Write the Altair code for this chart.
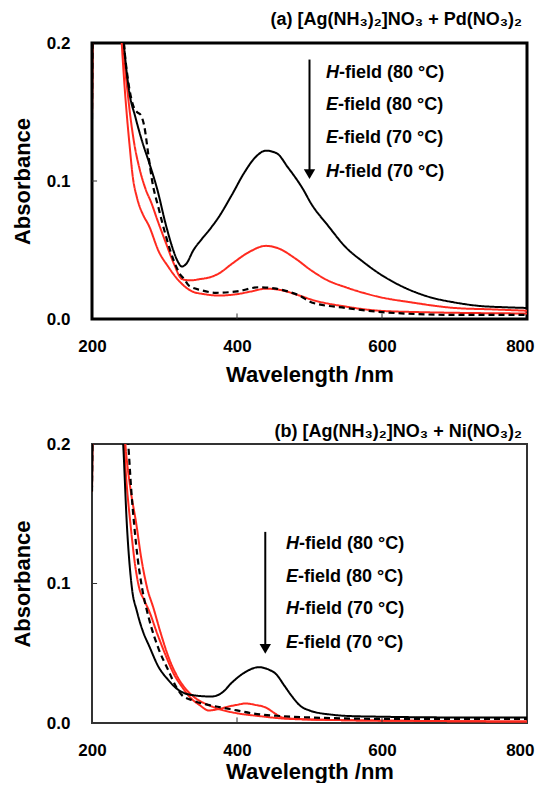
import altair as alt
import pandas as pd

# ---------------- axes ----------------
X_TICKS = [200, 400, 600, 800]
Y_TICKS = [0.0, 0.1, 0.2]
INNER_X_TICKS = [400, 600]
INNER_Y_TICKS = [0.1]

RED = "#ff2a1f"
BLACK = "#000000"
FONT = "Liberation Sans"

# ---------------- panel (a): [Ag(NH3)2]NO3 + Pd(NO3)2 ----------------
a_h80_wl = [200, 202, 238, 244, 251, 260, 269, 279, 290, 302, 312, 318, 324, 330, 340, 350, 361, 375, 393,
            410, 425, 440, 455, 470, 490, 503, 525, 550, 575, 596, 630, 665, 700, 734, 770, 800]
a_h80_ab = [0.145, 0.25, 0.25, 0.200, 0.166, 0.146, 0.129, 0.113, 0.094, 0.068, 0.050, 0.042, 0.038, 0.040,
            0.050, 0.057, 0.064, 0.074, 0.090, 0.106, 0.117, 0.122, 0.120, 0.110, 0.095, 0.083, 0.068, 0.052,
            0.041, 0.033, 0.023, 0.016, 0.012, 0.0095, 0.0085, 0.008]

a_e80_wl = [200, 202, 238, 243, 250, 258, 266, 274, 282, 290, 302, 313, 324, 335, 350, 361, 375, 393, 415,
            440, 458, 480, 503, 525, 550, 596, 641, 700, 750, 800]
a_e80_ab = [0.145, 0.25, 0.25, 0.200, 0.160, 0.128, 0.108, 0.094, 0.084, 0.072, 0.055, 0.040, 0.029, 0.028,
            0.029, 0.030, 0.033, 0.040, 0.048, 0.053, 0.051, 0.044, 0.035, 0.028, 0.023, 0.016, 0.012, 0.008,
            0.007, 0.006]

a_h70_wl = [200, 202, 236, 241, 245, 248, 252, 256, 262, 266, 270, 279, 292, 305, 316, 327, 338, 355, 375,
            400, 420, 440, 460, 486, 503, 550, 596, 650, 700, 800]
a_h70_ab = [0.145, 0.25, 0.25, 0.200, 0.168, 0.148, 0.125, 0.104, 0.088, 0.081, 0.076, 0.067, 0.049, 0.038,
            0.030, 0.024, 0.020, 0.018, 0.017, 0.018, 0.020, 0.022, 0.021, 0.017, 0.014, 0.009, 0.006, 0.005,
            0.0045, 0.004]

a_e70_wl = [200, 202, 238, 244, 250, 256, 262, 267, 272, 278, 283, 292, 302, 313, 322, 327, 334, 350, 371,
            400, 430, 454, 470, 486, 503, 550, 600, 700, 800]
a_e70_ab = [0.145, 0.25, 0.25, 0.200, 0.172, 0.156, 0.150, 0.148, 0.140, 0.118, 0.100, 0.080, 0.060, 0.042,
            0.032, 0.029, 0.024, 0.021, 0.019, 0.020, 0.023, 0.022, 0.020, 0.017, 0.012, 0.008, 0.005, 0.003,
            0.003]

a_title = "(a) [Ag(NH₃)₂]NO₃ + Pd(NO₃)₂"
a_leg_letter = ["H", "E", "E", "H"]
a_leg_rest = ["-field (80 °C)", "-field (80 °C)", "-field (70 °C)", "-field (70 °C)"]
a_leg_wl = [540.6, 539.3, 539.3, 540.6]
a_leg_ab = [0.178, 0.155, 0.131, 0.1065]
a_arrow_wl = [500]
a_arrow_top = [0.188]
a_arrow_tip = [0.0995]

# ---------------- panel (b): [Ag(NH3)2]NO3 + Ni(NO3)2 ----------------
b_h80_wl = [200, 202, 236, 243, 248, 255, 262, 270, 279, 292, 305, 316, 338, 365, 380, 393, 410, 430, 445,
            454, 465, 476, 488, 500, 530, 555, 600, 700, 800]
b_h80_ab = [0.166, 0.25, 0.25, 0.200, 0.143, 0.097, 0.080, 0.066, 0.055, 0.040, 0.031, 0.025, 0.020, 0.019,
            0.022, 0.029, 0.036, 0.040, 0.038, 0.035, 0.027, 0.019, 0.012, 0.009, 0.006, 0.005, 0.0045, 0.004,
            0.004]

b_e80_wl = [200, 202, 238, 244, 248, 253, 259, 265, 272, 279, 290, 302, 313, 324, 336, 348, 361, 375, 390,
            400, 412, 425, 440, 452, 462, 480, 550, 650, 800]
b_e80_ab = [0.166, 0.25, 0.25, 0.200, 0.170, 0.143, 0.115, 0.097, 0.088, 0.080, 0.064, 0.048, 0.035, 0.026,
            0.018, 0.013, 0.009, 0.010, 0.012, 0.013, 0.014, 0.013, 0.011, 0.007, 0.004, 0.003, 0.002, 0.0015,
            0.001]

b_h70_wl = [200, 202, 240, 246, 253, 261, 268, 276, 285, 295, 305, 318, 330, 345, 360, 375, 400, 430, 470,
            550, 650, 800]
b_h70_ab = [0.166, 0.25, 0.25, 0.200, 0.168, 0.143, 0.118, 0.097, 0.082, 0.064, 0.048, 0.033, 0.024, 0.017,
            0.013, 0.010, 0.007, 0.005, 0.003, 0.002, 0.0015, 0.001]

b_e70_wl = [200, 202, 240, 250, 254, 258, 263, 269, 279, 292, 305, 316, 324, 340, 360, 380, 400, 420, 460,
            500, 600, 800]
b_e70_ab = [0.166, 0.25, 0.25, 0.200, 0.168, 0.143, 0.118, 0.097, 0.074, 0.053, 0.038, 0.026, 0.020, 0.016,
            0.013, 0.011, 0.009, 0.007, 0.005, 0.004, 0.003, 0.003]

b_title = "(b) [Ag(NH₃)₂]NO₃ + Ni(NO₃)₂"
b_leg_letter = ["H", "E", "H", "E"]
b_leg_rest = ["-field (80 °C)", "-field (80 °C)", "-field (70 °C)", "-field (70 °C)"]
b_leg_wl = [485.4, 484.2, 485.4, 484.2]
b_leg_ab = [0.128, 0.105, 0.0818, 0.0575]
b_arrow_wl = [439]
b_arrow_top = [0.137]
b_arrow_tip = [0.0476]


def x_axis(title_pad):
    return alt.Axis(title="Wavelength /nm", values=X_TICKS, ticks=False, tickSize=0, domain=False, grid=False,
                    labelFlush=False, labelOverlap=False,
                    labelAlign={"condition": {"test": "datum.value >= 800", "value": "right"},
                                "value": "center"},
                    labelOffset={"condition": {"test": "datum.value >= 800", "value": 7}, "value": 0},
                    labelFont=FONT, labelFontSize=17, labelFontWeight="bold", labelColor="black",
                    labelPadding=19, titleFont=FONT, titleFontSize=22, titleFontWeight="bold",
                    titleColor="black", titlePadding=title_pad)


Y_AXIS = alt.Axis(title="Absorbance", values=Y_TICKS, format=".1f", ticks=False, tickSize=0, domain=False,
                  grid=False, labelFlush=False, labelOverlap=False,
                  labelFont=FONT, labelFontSize=17, labelFontWeight="bold", labelColor="black",
                  labelPadding=22, titleFont=FONT, titleFontSize=22, titleFontWeight="bold",
                  titleColor="black", titlePadding=12)
X_SCALE = alt.Scale(domain=[200, 800], nice=False, zero=False)
Y_SCALE = alt.Scale(domain=[0, 0.2], nice=False)


def panel(series, title, title_offset, leg_letter, leg_rest, leg_wl, leg_ab,
          arr_wl, arr_top, arr_tip, height, frame_color, frame_width, tick_len, xtitle_pad):
    xa = x_axis(xtitle_pad)

    def xenc():
        return alt.X("wl:Q", scale=X_SCALE, axis=xa)

    def yenc():
        return alt.Y("ab:Q", scale=Y_SCALE, axis=Y_AXIS)

    layers = []
    for (w, a, c, d, sw) in series:
        df = pd.DataFrame({"wl": w, "ab": a})
        layers.append(alt.Chart(df).mark_line(color=c, strokeDash=d, strokeWidth=sw, clip=True,
                                              interpolate="monotone").encode(x=xenc(), y=yenc()))

    xt = pd.DataFrame({"wl": INNER_X_TICKS, "ab": [0.0] * len(INNER_X_TICKS),
                       "ab2": [tick_len] * len(INNER_X_TICKS)})
    yt = pd.DataFrame({"wl": [200] * len(INNER_Y_TICKS), "wl2": [207] * len(INNER_Y_TICKS),
                       "ab": INNER_Y_TICKS})
    layers.append(alt.Chart(xt).mark_rule(color="#333", strokeWidth=1).encode(
        x=xenc(), y=yenc(), y2="ab2:Q"))
    layers.append(alt.Chart(yt).mark_rule(color="#333", strokeWidth=1).encode(
        x=xenc(), x2="wl2:Q", y=yenc()))

    ar = pd.DataFrame({"wl": arr_wl, "ab": arr_top, "ab2": [t + 0.006 for t in arr_tip],
                       "tipc": [t + 0.0055 for t in arr_tip]})
    layers.append(alt.Chart(ar).mark_rule(color="black", strokeWidth=2).encode(
        x=xenc(), y=yenc(), y2="ab2:Q"))
    layers.append(alt.Chart(ar).mark_point(shape="triangle-down", filled=True, color="black",
                                           opacity=1, size=130).encode(
        x=xenc(), y=alt.Y("tipc:Q", scale=Y_SCALE, axis=Y_AXIS)))

    lg = pd.DataFrame({"wl": leg_wl, "ab": leg_ab, "letter": leg_letter, "rest": leg_rest})
    layers.append(alt.Chart(lg).mark_text(align="right", baseline="middle", font=FONT, fontSize=18,
                                          fontWeight="bold", fontStyle="italic", color="black").encode(
        x=xenc(), y=yenc(), text="letter:N"))
    layers.append(alt.Chart(lg).mark_text(align="left", baseline="middle", font=FONT, fontSize=18,
                                          fontWeight="bold", color="black").encode(
        x=xenc(), y=yenc(), text="rest:N"))

    return alt.layer(*layers).properties(
        width=435, height=height,
        title=alt.TitleParams(title, anchor="end", frame="group", dx=-5, font=FONT, fontSize=18,
                              fontWeight="bold", color="black", offset=title_offset),
        view=alt.ViewBackground(stroke=frame_color, strokeWidth=frame_width, fill="white"),
    )


top = panel(
    [(a_e80_wl, a_e80_ab, RED, [1, 0], 2),
     (a_h70_wl, a_h70_ab, RED, [1, 0], 2),
     (a_h80_wl, a_h80_ab, BLACK, [1, 0], 2),
     (a_e70_wl, a_e70_ab, BLACK, [6, 4], 2.2)],
    a_title, 5, a_leg_letter, a_leg_rest, a_leg_wl, a_leg_ab,
    a_arrow_wl, a_arrow_top, a_arrow_tip, 276, "#000000", 3, 0.004, 10)

bottom = panel(
    [(b_e80_wl, b_e80_ab, RED, [1, 0], 2),
     (b_h70_wl, b_h70_ab, RED, [1, 0], 2),
     (b_h80_wl, b_h80_ab, BLACK, [1, 0], 2),
     (b_e70_wl, b_e70_ab, BLACK, [6, 4], 2.2)],
    b_title, -6, b_leg_letter, b_leg_rest, b_leg_wl, b_leg_ab,
    b_arrow_wl, b_arrow_top, b_arrow_tip, 279, "#333333", 2, 0.004, 3)

chart = alt.vconcat(top, bottom, spacing=35).properties(
    padding={"left": 1, "top": 1, "right": 0, "bottom": 0}
).configure(background="white").configure_view(stroke="black")

chart.save("out.html", embed_options={"renderer": "svg", "actions": False})
